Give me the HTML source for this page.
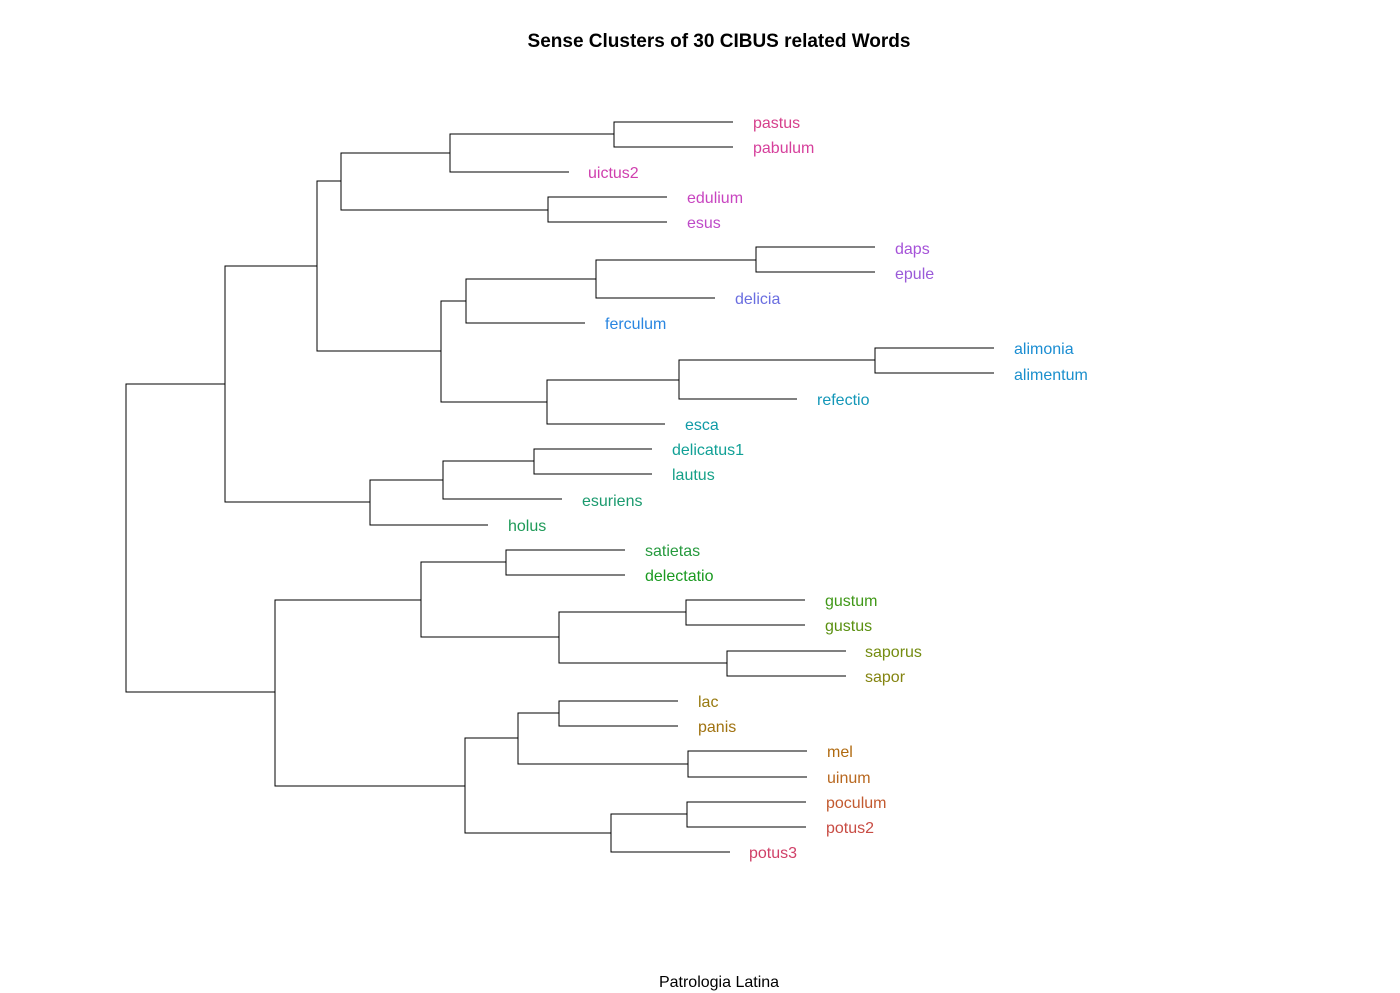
<!DOCTYPE html>
<html><head><meta charset="utf-8"><style>
html,body{margin:0;padding:0;background:#fff;}
svg{display:block;font-family:"Liberation Sans",sans-serif;}
</style></head><body>
<svg width="1400" height="993" viewBox="0 0 1400 993" xmlns="http://www.w3.org/2000/svg">
<text x="719" y="47" text-anchor="middle" font-size="19" font-weight="bold" fill="#000">Sense Clusters of 30 CIBUS related Words</text>
<text x="719" y="987" text-anchor="middle" font-size="16" fill="#000">Patrologia Latina</text>
<g stroke="#000" stroke-width="1" fill="none" shape-rendering="crispEdges">
<path d="M733,122H614V147H733"/>
<path d="M614,134H450V172H569"/>
<path d="M667,197H548V222H667"/>
<path d="M450,153H341V210H548"/>
<path d="M875,247H756V272H875"/>
<path d="M756,260H596V298H715"/>
<path d="M596,279H466V323H585"/>
<path d="M994,348H875V373H994"/>
<path d="M875,360H679V399H797"/>
<path d="M679,380H547V424H665"/>
<path d="M466,301H441V402H547"/>
<path d="M341,181H317V351H441"/>
<path d="M652,449H534V474H652"/>
<path d="M534,461H443V499H562"/>
<path d="M443,480H370V525H488"/>
<path d="M317,266H225V502H370"/>
<path d="M625,550H506V575H625"/>
<path d="M805,600H686V625H805"/>
<path d="M846,651H727V676H846"/>
<path d="M686,612H559V663H727"/>
<path d="M506,562H421V637H559"/>
<path d="M678,701H559V726H678"/>
<path d="M807,751H688V777H807"/>
<path d="M559,713H518V764H688"/>
<path d="M806,802H687V827H806"/>
<path d="M687,814H611V852H730"/>
<path d="M518,738H465V833H611"/>
<path d="M421,600H275V786H465"/>
<path d="M225,384H126V692H275"/>
</g>
<g font-size="16">
<text x="753" y="128" fill="#d6408c">pastus</text>
<text x="753" y="153" fill="#d6409c">pabulum</text>
<text x="588" y="178" fill="#cf3fae">uictus2</text>
<text x="687" y="203" fill="#c845c0">edulium</text>
<text x="687" y="228" fill="#be4ac8">esus</text>
<text x="895" y="254" fill="#a552d8">daps</text>
<text x="895" y="279" fill="#9a5ad8">epule</text>
<text x="735" y="304" fill="#6a6ee0">delicia</text>
<text x="605" y="329" fill="#2a86e0">ferculum</text>
<text x="1014" y="354" fill="#1a8dd2">alimonia</text>
<text x="1014" y="380" fill="#1a8fcc">alimentum</text>
<text x="817" y="405" fill="#1497b8">refectio</text>
<text x="685" y="430" fill="#0f9aa6">esca</text>
<text x="672" y="455" fill="#11a096">delicatus1</text>
<text x="672" y="480" fill="#15a088">lautus</text>
<text x="582" y="506" fill="#1b9a6e">esuriens</text>
<text x="508" y="531" fill="#1e9a58">holus</text>
<text x="645" y="556" fill="#269a3e">satietas</text>
<text x="645" y="581" fill="#1a9a20">delectatio</text>
<text x="825" y="606" fill="#409818">gustum</text>
<text x="825" y="631" fill="#5a9010">gustus</text>
<text x="865" y="657" fill="#748c10">saporus</text>
<text x="865" y="682" fill="#848410">sapor</text>
<text x="698" y="707" fill="#987a10">lac</text>
<text x="698" y="732" fill="#a07210">panis</text>
<text x="827" y="757" fill="#b06a10">mel</text>
<text x="827" y="783" fill="#b86820">uinum</text>
<text x="826" y="808" fill="#c25a30">poculum</text>
<text x="826" y="833" fill="#c84c44">potus2</text>
<text x="749" y="858" fill="#d04068">potus3</text>
</g>
</svg>
</body></html>
